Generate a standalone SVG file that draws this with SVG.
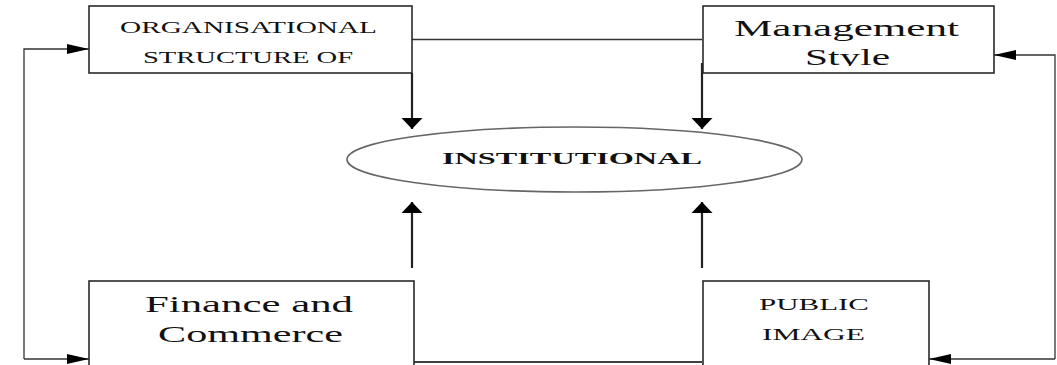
<svg xmlns="http://www.w3.org/2000/svg" width="1057" height="365" viewBox="0 0 1057 365">
  <style>
    .box { fill: #ffffff; stroke: #2a2a2a; stroke-width: 1.6; }
    .ell { fill: #ffffff; stroke: #666666; stroke-width: 1.6; }
    .t { font-family: "Liberation Serif", "Times New Roman", serif; fill: #111111; }
    .s16 { font-size: 16px; }
    .s17 { font-size: 17px; }
    .s23 { font-size: 23px; }
    .b { font-weight: bold; }
    .thin { fill: none; stroke: #333333; stroke-width: 1.3; }
    .thick { fill: none; stroke: #222222; stroke-width: 2.2; }
  </style>
  <defs>
    <marker id="headV" markerUnits="userSpaceOnUse" viewBox="0 -11 12 22" refX="11" refY="0" markerWidth="12" markerHeight="22" orient="auto" overflow="visible">
      <path d="M0,-10.5 L11,0 L0,10.5 z" fill="#000000"/>
    </marker>
    <marker id="headH" markerUnits="userSpaceOnUse" viewBox="0 -6 23 12" refX="22" refY="0" markerWidth="23" markerHeight="12" orient="auto" overflow="visible">
      <path d="M0,-5 L22,0 L0,5 z" fill="#000000"/>
    </marker>
    <clipPath id="clipMgmt">
      <rect x="703" y="6" width="291" height="60"/>
    </clipPath>
  </defs>

  <rect x="0" y="0" width="1057" height="365" fill="#ffffff"/>

  <g id="connectors">
    <path class="thin" d="M412,39.5 H702"/>
    <path class="thick" d="M412,73 V129" marker-end="url(#headV)"/>
    <path class="thick" d="M702,63 V129" marker-end="url(#headV)"/>
    <path class="thick" d="M412,268 V202" marker-end="url(#headV)"/>
    <path class="thick" d="M702,268 V202" marker-end="url(#headV)"/>
    <path class="thin" d="M24,359 V49 H89" marker-end="url(#headH)"/>
    <path class="thin" d="M24,359 H89" marker-end="url(#headH)"/>
    <path class="thin" d="M1055,359 V55 H994" marker-end="url(#headH)"/>
    <path class="thin" d="M1055,359 H929" marker-end="url(#headH)"/>
    <path class="thin" d="M414,362 H702" style="stroke:#000000;stroke-width:1.6"/>
  </g>

  <g id="node-organisational">
    <rect class="box" x="89" y="6" width="323" height="67"/>
    <text class="t s16" x="120" y="33.3" textLength="257" lengthAdjust="spacingAndGlyphs">ORGANISATIONAL</text>
    <text class="t s16" x="143" y="63.3" textLength="210" lengthAdjust="spacingAndGlyphs">STRUCTURE OF</text>
  </g>

  <g id="node-management">
    <rect class="box" x="703" y="6" width="291" height="67"/>
    <text class="t s23" x="734" y="36" textLength="225" lengthAdjust="spacingAndGlyphs">Management</text>
    <g clip-path="url(#clipMgmt)">
      <text class="t s23" x="805" y="64.5" textLength="85" lengthAdjust="spacingAndGlyphs">Style</text>
    </g>
  </g>

  <g id="node-institutional">
    <ellipse class="ell" cx="574.5" cy="159.5" rx="227.5" ry="32.5"/>
    <text class="t s17 b" x="442" y="164" textLength="260" lengthAdjust="spacingAndGlyphs">INSTITUTIONAL</text>
  </g>

  <g id="node-finance">
    <rect class="box" x="89" y="281" width="325" height="110"/>
    <text class="t s23" x="145" y="311.7" textLength="208" lengthAdjust="spacingAndGlyphs">Finance and</text>
    <text class="t s23" x="158" y="341.7" textLength="185" lengthAdjust="spacingAndGlyphs">Commerce</text>
  </g>

  <g id="node-public-image">
    <rect class="box" x="703" y="281" width="226" height="110"/>
    <text class="t s17" x="759" y="310" textLength="110" lengthAdjust="spacingAndGlyphs">PUBLIC</text>
    <text class="t s17" x="762" y="340" textLength="103" lengthAdjust="spacingAndGlyphs">IMAGE</text>
  </g>
</svg>
